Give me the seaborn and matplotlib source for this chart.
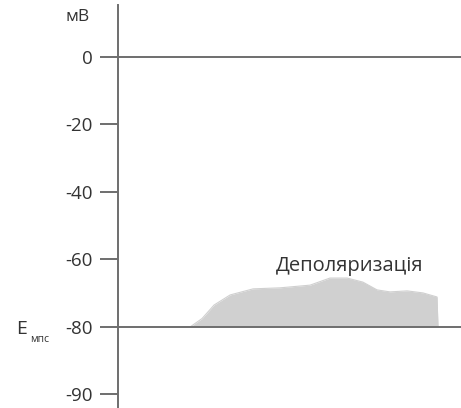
import numpy as np
import matplotlib
matplotlib.use("Agg")
import matplotlib.pyplot as plt
import seaborn as sns
import pandas as pd

# depolarization hump (x in arbitrary time units, y in mV)
time = [21.0, 24.5, 28.0, 32.7, 39.4, 47.2, 56.0, 61.8, 66.8, 71.4, 75.5, 79.3, 84.3, 88.9, 93.0, 93.3]
volt = [-80.0, -77.5, -73.5, -70.5, -68.7, -68.4, -67.6, -65.5, -65.5, -66.7, -69.0, -69.6, -69.3, -69.9, -71.1, -80.0]
yticks = [0, -20, -40, -60, -80, -90]
ref_lines = [0, -80]
label_text = "Деполяризація"

sns.set_style("white")
plt.rcParams['font.family'] = ['Open Sans', 'DejaVu Sans']

df = pd.DataFrame({"t": time, "v": volt})

fig = plt.figure(figsize=(4.61, 4.08), dpi=100)
ax = fig.add_axes([118/461, 0, 1 - 118/461, 1 - 5/408])

# stretch the part below -80 (the scale is broken there)
def fwd(y):
    y = np.asarray(y, dtype=float)
    return np.where(y >= -80, y, -80 + 2*(y + 80))

def inv(t):
    t = np.asarray(t, dtype=float)
    return np.where(t >= -80, t, -80 + (t + 80)/2)

ax.set_yscale('function', functions=(fwd, inv))

fill_col = "#d0d0d0"
line_col = "#6e6e6e"
txt_col = "#333333"
ax.fill_between(df["t"], -80, df["v"], color=fill_col, linewidth=0)
sns.lineplot(data=df, x="t", y="v", ax=ax, color=fill_col, linewidth=0.8, sort=False)

for v in ref_lines:
    ax.axhline(v, color=line_col, linewidth=1.4, zorder=3)

ax.set_xlim(0, 100)
ax.set_ylim(-92, 15.4)
ax.set_yticks(yticks)
ax.set_yticklabels([str(v) for v in yticks])
ax.set_xticks([])
ax.set_xlabel("")
ax.set_ylabel("")
for s in ["top", "right", "bottom"]:
    ax.spines[s].set_visible(False)
ax.spines["left"].set_color(line_col)
ax.spines["left"].set_linewidth(1.4)
ax.tick_params(axis="y", direction="out", length=13, width=1.4, color=line_col,
               pad=5, labelsize=13.5, labelcolor=txt_col, left=True)

ax.text(67.4, -62, label_text, ha="center", va="center", fontsize=14.5, color=txt_col)

fig.text(78/461, 1 - 17/408, "мВ", ha="center", va="center", fontsize=12.5, color=txt_col)
fig.text(22/461, 1 - 329/408, "E", ha="center", va="center", fontsize=14, color=txt_col)
fig.text(40/461, 1 - 340/408, "мпс", ha="center", va="center", fontsize=7.5, color=txt_col)

fig.savefig("out.png", dpi=100)
